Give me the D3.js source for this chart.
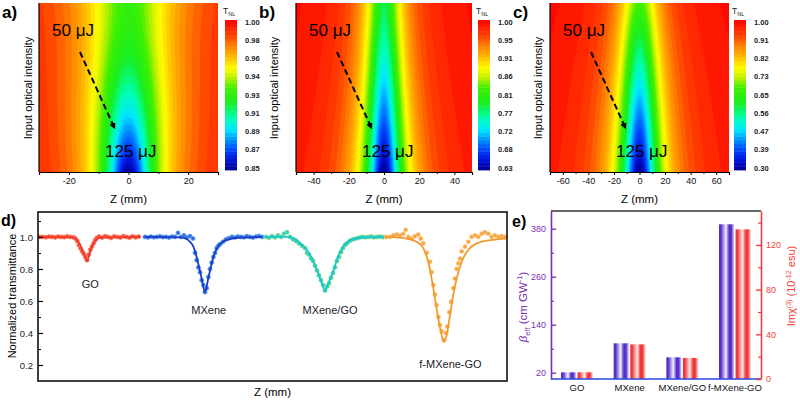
<!DOCTYPE html>
<html><head><meta charset="utf-8">
<script src="https://cdn.jsdelivr.net/npm/d3@7"></script>
<style>body{margin:0;background:#fff} svg text{font-family:"Liberation Sans",Arial,sans-serif}</style>
</head><body><svg id="c" width="800" height="400"></svg>
<script>
// ================= DATA =================
// panels a-c : Z-scan maps
const heatLetters = ["a)", "b)", "c)"];
const zHalfSpan = [30, 50, 70];                       // Z range (mm)
const zMajorTicks = [[-20, 0, 20], [-40, -20, 0, 20, 40], [-60, -40, -20, 0, 20, 40, 60]];
const zMinorTicks = [[-30, -10, 10, 30], [-50, -30, -10, 10, 30, 50], [-70, -50, -30, -10, 10, 30, 50, 70]];
const cbLabels = [
  ["1.00", "0.98", "0.96", "0.94", "0.93", "0.91", "0.89", "0.87", "0.85"],
  ["1.00", "0.95", "0.91", "0.86", "0.81", "0.77", "0.72", "0.68", "0.63"],
  ["1.00", "0.91", "0.82", "0.73", "0.65", "0.56", "0.47", "0.39", "0.30"]];
const tnlMin = [0.85, 0.63, 0.30];
const depthLow = [0.072, 0.215, 0.32];    // dip depth at 50 uJ (top row)
const depthHigh = [0.15, 0.37, 0.70];     // dip depth at 125 uJ (bottom row)
const depthGrowth = [1.7, 1.25, 1.0];     // how the depth grows from top to bottom row
const waistLow = [15, 10, 15];            // Rayleigh-like width (mm), top row
const waistHigh = [8.6, 10.5, 14.7];      // bottom row
const energyLabels = ["50 μJ", "125 μJ"];

// panel d : normalized transmittance
const zGO = [0.4,1.05,1.7,2.35,3.0,3.65,4.3,4.95,5.6,6.25,6.9,7.55,8.0,8.35,8.7,9.05,9.4,9.75,10.1,10.45,10.8,11.15,11.5,11.85,12.2,12.55,13.0,13.65,14.3,14.95,15.6,16.25,16.9,17.55,18.2,18.85,19.5,20.15,20.8,21.45];
const tGO = [1.0,1.0,0.998,1.002,1.0,0.997,1.003,1.0,0.999,1.004,1.0,0.998,0.99,0.975,0.95,0.93,0.91,0.895,0.875,0.855,0.89,0.92,0.94,0.96,0.98,0.995,1.003,0.996,1.005,1.0,0.994,1.004,1.0,0.996,1.006,1.0,0.995,1.004,0.998,1.002];
const zGOfit = [0.2,7.2,7.9,8.6,9.3,9.9,10.4,10.9,11.5,12.2,13.0,21.9];
const tGOfit = [1.0,0.998,0.99,0.97,0.93,0.885,0.85,0.885,0.94,0.975,0.995,1.0];

const zMX = [22.8,23.45,24.1,24.73,25.37,26.0,26.65,27.3,27.93,28.57,29.2,29.85,30.5,31.13,31.77,32.4,33.05,33.48,33.84,34.18,34.54,34.9,35.25,35.6,35.97,36.31,36.67,37.03,37.38,37.74,38.1,38.44,38.8,39.45,40.09,40.72,41.36,42.0,42.64,43.28,43.92,44.56,45.2,45.84,46.48,47.1,47.76];
const tMX = [1.0,0.997,1.002,0.998,1.0,1.004,0.999,1.0,0.996,1.003,1.0,1.025,1.0,1.01,0.998,1.005,0.99,0.90,0.855,0.81,0.78,0.73,0.70,0.655,0.68,0.75,0.80,0.84,0.875,0.90,0.93,0.945,0.955,0.97,0.985,0.993,1.0,0.997,1.003,1.0,0.998,1.005,1.0,0.996,1.002,1.006,1.0];
const zMXfit = [22.8,30.5,31.77,32.4,33.05,33.5,34.2,34.9,35.6,36.3,37.0,37.7,38.4,39.45,40.7,42.6,47.8];
const tMXfit = [1.0,0.997,0.985,0.97,0.945,0.91,0.83,0.74,0.655,0.74,0.83,0.9,0.94,0.97,0.985,0.995,1.0];

const zMG = [48.61,49.25,49.89,50.53,51.17,51.81,52.45,53.09,53.73,54.37,55.01,55.65,56.29,56.93,57.36,57.78,58.21,58.64,59.06,59.49,59.91,60.34,60.77,61.19,61.62,62.05,62.47,62.9,63.33,63.75,64.18,64.61,65.03,65.46,65.88,66.52,67.16,67.8,68.44,69.08,69.72,70.36,71.0,71.64,72.28,72.92,73.56];
const tMG = [1.0,0.995,1.005,0.998,1.01,1.0,1.02,1.03,1.0,0.985,0.975,0.96,0.945,0.93,0.9,0.89,0.865,0.85,0.82,0.79,0.76,0.73,0.7,0.665,0.69,0.71,0.745,0.775,0.81,0.85,0.875,0.905,0.93,0.95,0.96,0.975,0.985,0.99,0.995,1.0,0.998,1.0,1.003,0.998,1.0,1.002,0.999];
const zMGfit = [48.4,53.4,54.7,55.9,57.3,58.7,59.8,60.8,61.2,61.9,63.0,64.0,65.1,66.5,68.7,73.8];
const tMGfit = [1.0,1.0,0.99,0.96,0.92,0.85,0.77,0.69,0.665,0.71,0.79,0.88,0.94,0.98,0.995,1.0];

const zFM = [74.2,75.05,75.76,76.48,77.19,77.89,78.4,78.96,79.68,80.38,81.09,81.6,82.15,82.88,83.58,83.94,84.29,84.65,85.01,85.35,85.71,86.08,86.57,86.99,87.27,87.7,88.06,88.55,88.91,89.27,89.62,89.98,90.34,91.04,91.75,92.47,93.18,93.88,94.61,95.31,96.01,96.74,97.44,98.15,98.87,99.57];
const tFM = [1.0,1.0,1.01,1.015,1.01,1.02,1.045,1.0,0.99,1.005,1.015,0.99,0.96,0.9,0.845,0.78,0.70,0.64,0.575,0.50,0.45,0.41,0.355,0.40,0.44,0.53,0.595,0.68,0.74,0.80,0.835,0.865,0.91,0.94,0.97,1.0,1.01,1.0,1.02,1.03,1.02,1.0,1.01,1.0,1.005,1.0];
const zFMfit = [74.2,78.6,80.7,82.15,83.2,83.94,84.65,85.35,86.08,86.57,87.13,87.84,88.55,89.27,90.34,91.75,93.53,96.38,99.8];
const tFMfit = [1.0,0.99,0.97,0.93,0.845,0.74,0.615,0.49,0.385,0.345,0.385,0.51,0.64,0.74,0.845,0.92,0.96,0.98,0.99];

const sampleNames = ["GO", "MXene", "MXene/GO", "f-MXene-GO"];
const sampleLabelZ = [11.15, 36.4, 62.26, 87.95];
const sampleLabelT = [0.681, 0.516, 0.516, 0.181];
const transTicks = [0.2, 0.4, 0.6, 0.8, 1.0];
const transMinor = [0.3, 0.5, 0.7, 0.9, 1.1];

// panel e : bars
const categories = ["GO", "MXene", "MXene/GO", "f-MXene-GO"];
const betaEff = [21, 93.5, 58.5, 391];
const imChi3 = [6, 31, 18.8, 134];
const betaTicks = [20, 140, 260, 380];
const betaMinor = [80, 200, 320];
const chiTicks = [0, 40, 80, 120];
const chiMinor = [20, 60, 100, 140];

// ================= DRAW =================
const svg = d3.select("#c");
const defs = svg.append("defs");
const FONT = '"Liberation Sans",Arial,sans-serif';

// colormap (Origin rainbow-like)
const cmap = d3.scaleLinear()
  .domain([0, 0.06, 0.13, 0.2, 0.27, 0.35, 0.45, 0.55, 0.62, 0.68, 0.75, 0.83, 0.9, 1])
  .range(["#00008f", "#0010d0", "#0040ff", "#0090ff", "#00e8ff", "#00ffb0", "#18ee20", "#40f000", "#c0f000", "#ffff00", "#ffc000", "#ff8000", "#ff4000", "#ff0000"])
  .interpolate(d3.interpolateRgb);

const NLEV = 40;
const heatBoxes = [{x0: 39, x1: 218, cb: 225, yl: 32}, {x0: 296, x1: 472, cb: 478, yl: 278}, {x0: 550, x1: 729, cb: 734, yl: 542}];
const hy0 = 3, hy1 = 172, cby0 = 20, cby1 = 170, cbw = 12;

defs.append("marker").attr("id", "arr").attr("viewBox", "0 0 10 10").attr("refX", 6).attr("refY", 5)
  .attr("markerWidth", 3.2).attr("markerHeight", 3.2).attr("orient", "auto")
  .append("path").attr("d", "M0,0 L10,5 L0,10 z").attr("fill", "#000");

heatLetters.forEach((letter, p) => {
  const b = heatBoxes[p];
  const g = svg.append("g");
  const zr = zHalfSpan[p];
  const xs = d3.scaleLinear().domain([-zr, zr]).range([b.x0, b.x1]);
  const nx = 160, ny = 90;
  const vals = new Array(nx * ny);
  for (let j = 0; j < ny; j++) {
    const f = (j + 0.5) / ny;
    const dd = depthLow[p] + (depthHigh[p] - depthLow[p]) * Math.pow(f, depthGrowth[p]);
    const w = waistLow[p] + (waistHigh[p] - waistLow[p]) * f;
    for (let i = 0; i < nx; i++) {
      const z = -zr + (i + 0.5) / nx * 2 * zr;
      vals[i + j * nx] = 1 - dd / (1 + (z / w) * (z / w));
    }
  }
  const tmin = tnlMin[p];
  const th = d3.range(NLEV).map(k => tmin + (1 - tmin) * k / NLEV);
  const conts = d3.contours().size([nx, ny]).thresholds(th)(vals);
  const proj = d3.geoTransform({point(x, y) { this.stream.point(b.x0 + x / nx * (b.x1 - b.x0), hy0 + y / ny * (hy1 - hy0)); }});
  const path = d3.geoPath(proj);
  const cid = "clip" + p;
  defs.append("clipPath").attr("id", cid).append("rect")
    .attr("x", b.x0).attr("y", hy0).attr("width", b.x1 - b.x0).attr("height", hy1 - hy0);
  const hg = g.append("g").attr("clip-path", `url(#${cid})`);
  hg.append("rect").attr("x", b.x0).attr("y", hy0).attr("width", b.x1 - b.x0).attr("height", hy1 - hy0)
    .attr("fill", cmap(0.5 / NLEV));
  hg.selectAll("path").data(conts).join("path")
    .attr("d", path)
    .attr("fill", (c, k) => cmap((k + 0.5) / NLEV))
    .attr("stroke", (c, k) => cmap((k + 0.5) / NLEV)).attr("stroke-width", 0.4);

  // axes
  const ax = g.append("g").attr("transform", `translate(0,${hy1})`)
    .call(d3.axisBottom(xs).tickValues(zMajorTicks[p]).tickSize(3).tickPadding(3).tickFormat(d3.format("d")));
  ax.select(".domain").attr("stroke-width", 1.2);
  ax.selectAll("text").attr("font-size", 9).attr("font-family", FONT).attr("fill", "#111").text(d => d < 0 ? "-" + Math.abs(d) : d);
  g.append("g").attr("transform", `translate(0,${hy1})`)
    .call(d3.axisBottom(xs).tickValues(zMinorTicks[p]).tickSize(2).tickFormat(""))
    .select(".domain").remove();
  g.append("line").attr("x1", b.x0).attr("x2", b.x0).attr("y1", hy0).attr("y2", hy1).attr("stroke", "#000").attr("stroke-width", 1.2);

  g.append("text").attr("x", xs(0)).attr("y", 203).attr("text-anchor", "middle").attr("font-size", 11.5).text("Z (mm)");
  g.append("text").attr("transform", `translate(${b.yl},88) rotate(-90)`).attr("text-anchor", "middle")
    .attr("font-size", 11).text("Input optical intensity");
  g.append("text").attr("x", b.x0 - 37).attr("y", 18).attr("font-size", 17).attr("font-weight", "bold").text(letter);

  // energy annotation
  g.append("text").attr("x", b.x0 + 13).attr("y", 36).attr("font-size", 17).text(energyLabels[0]);
  g.append("text").attr("x", b.x0 + 66).attr("y", 157).attr("font-size", 17).text(energyLabels[1]);
  g.append("line").attr("x1", b.x0 + 41).attr("y1", 52).attr("x2", b.x0 + 75).attr("y2", 127)
    .attr("stroke", "#000").attr("stroke-width", 2).attr("stroke-dasharray", "6,3.5").attr("marker-end", "url(#arr)");

  // colorbar
  const cy = d3.scaleLinear().domain([tmin, 1]).range([cby1, cby0]);
  g.selectAll(".cb").data(d3.range(NLEV)).join("rect")
    .attr("x", b.cb).attr("width", cbw)
    .attr("y", k => cy(tmin + (1 - tmin) * (k + 1) / NLEV))
    .attr("height", k => cy(tmin + (1 - tmin) * k / NLEV) - cy(tmin + (1 - tmin) * (k + 1) / NLEV) + 0.4)
    .attr("fill", k => cmap((k + 0.5) / NLEV));
  const ly = d3.scaleLinear().domain([0, cbLabels[p].length - 1]).range([cby0 + 2, cby1 - 2]);
  g.selectAll(".cbl").data(cbLabels[p]).join("text")
    .attr("x", b.cb + cbw + 8).attr("y", (d, i) => ly(i) + 2.5)
    .attr("font-size", 7.5).attr("font-weight", "bold").attr("fill", "#222").text(d => d);
  const tl = g.append("text").attr("x", b.cb - 2).attr("y", 14).attr("font-size", 8.5).attr("fill", "#222");
  tl.append("tspan").text("T");
  tl.append("tspan").attr("font-size", 5.5).attr("dy", 2).text("NL");
});

// ---------- panel d ----------
const dL = 38, dR = 507, dT = 212, dB = 381;
const xD = d3.scaleLinear().domain([0, 100]).range([dL, dR]);
const yD = d3.scaleLinear().domain([0.1, 1.156]).range([dB, dT]);
const gd = svg.append("g");
const series = [
  {z: zGO, t: tGO, zf: zGOfit, tf: tGOfit, fill: "#f2503c", stroke: "#ff8a70", line: "#f03a2a"},
  {z: zMX, t: tMX, zf: zMXfit, tf: tMXfit, fill: "#2f6fe0", stroke: "#70a8f0", line: "#1a3cc8"},
  {z: zMG, t: tMG, zf: zMGfit, tf: tMGfit, fill: "#30ccd8", stroke: "#90e070", line: "#18c6cc"},
  {z: zFM, t: tFM, zf: zFMfit, tf: tFMfit, fill: "#f6a444", stroke: "#fcc880", line: "#f39a2e"}];
const lineGen = d3.line().x(d => xD(d[0])).y(d => yD(d[1])).curve(d3.curveMonotoneX);
series.forEach(s => {
  gd.append("g").selectAll("circle").data(s.z.map((z, i) => [z, s.t[i]])).join("circle")
    .attr("cx", d => xD(d[0])).attr("cy", d => yD(d[1])).attr("r", 2.1)
    .attr("fill", s.fill).attr("stroke", s.stroke).attr("stroke-width", 0.7);
  gd.append("path").datum(s.zf.map((z, i) => [z, s.tf[i]])).attr("d", lineGen)
    .attr("fill", "none").attr("stroke", s.line).attr("stroke-width", 1.8);
});
gd.append("rect").attr("x", dL).attr("y", dT).attr("width", dR - dL).attr("height", dB - dT)
  .attr("fill", "none").attr("stroke", "#111").attr("stroke-width", 1.6);
const yax = gd.append("g").attr("transform", `translate(${dL},0)`)
  .call(d3.axisLeft(yD).tickValues(transTicks).tickSizeInner(-5).tickSizeOuter(0).tickPadding(5).tickFormat(d3.format(".1f")));
yax.select(".domain").remove();
yax.selectAll("text").attr("font-size", 9.5).attr("font-family", FONT).attr("fill", "#222");
yax.selectAll("line").attr("stroke-width", 1.2);
gd.append("g").attr("transform", `translate(${dL},0)`)
  .call(d3.axisLeft(yD).tickValues(transMinor).tickSize(-3).tickFormat(""))
  .select(".domain").remove();
gd.selectAll(".slab").data(sampleNames).join("text")
  .attr("x", (d, i) => xD(sampleLabelZ[i])).attr("y", (d, i) => yD(sampleLabelT[i]))
  .attr("text-anchor", "middle").attr("font-size", 11).attr("fill", "#1a1a2a").text(d => d);
gd.append("text").attr("transform", "translate(16,296) rotate(-90)").attr("text-anchor", "middle")
  .attr("font-size", 11).text("Normalized transmittance");
gd.append("text").attr("x", (dL + dR) / 2).attr("y", 396).attr("text-anchor", "middle").attr("font-size", 11.5).text("Z (mm)");
gd.append("text").attr("x", 1).attr("y", 226).attr("font-size", 16).attr("font-weight", "bold").text("d)");

// ---------- panel e ----------
const eL = 551, eR = 761, eT = 211, eB = 379;
const purple = "#7a2fb0", red = "#f43c3c";
const xE = d3.scaleBand().domain(categories).range([eL, eR]).paddingInner(0.392).paddingOuter(0.19);
const xE1 = d3.scaleBand().domain(["beta", "chi"]).range([0, xE.bandwidth()]).paddingInner(0.07);
const yB = d3.scaleLinear().domain([4.25, 424.25]).range([eB, eT]);
const yC = d3.scaleLinear().domain([0, 150.4]).range([eB, eT]);
function grad(id, dark, light) {
  const lg = defs.append("linearGradient").attr("id", id).attr("x1", 0).attr("x2", 1).attr("y1", 0).attr("y2", 0);
  [[0, dark], [0.12, dark], [0.45, light], [0.66, dark], [0.8, dark], [1, light]].forEach(([o, c]) =>
    lg.append("stop").attr("offset", o).attr("stop-color", c));
}
grad("gp", "#5530c8", "#f2eeff");
grad("gr", "#f03838", "#ffe8e8");
const ge = svg.append("g");
ge.selectAll(".bb").data(categories).join("rect")
  .attr("x", d => xE(d) + xE1("beta")).attr("width", xE1.bandwidth())
  .attr("y", (d, i) => yB(betaEff[i])).attr("height", (d, i) => eB - yB(betaEff[i]))
  .attr("fill", "url(#gp)");
ge.selectAll(".bc").data(categories).join("rect")
  .attr("x", d => xE(d) + xE1("chi")).attr("width", xE1.bandwidth())
  .attr("y", (d, i) => yC(imChi3[i])).attr("height", (d, i) => eB - yC(imChi3[i]))
  .attr("fill", "url(#gr)");
// frame lines
ge.append("line").attr("x1", eL).attr("x2", eR).attr("y1", eT).attr("y2", eT).attr("stroke", "#333").attr("stroke-width", 1.6);
ge.append("line").attr("x1", eL).attr("x2", eR).attr("y1", eB).attr("y2", eB).attr("stroke", "#2a48e0").attr("stroke-width", 1.6);
// left axis
const la = ge.append("g").attr("transform", `translate(${eL},0)`)
  .call(d3.axisLeft(yB).tickValues(betaTicks).tickSizeInner(-5).tickSizeOuter(0).tickPadding(5));
la.select(".domain").attr("stroke", purple).attr("stroke-width", 1.6);
la.selectAll("line").attr("stroke", purple).attr("stroke-width", 1.4);
la.selectAll("text").attr("fill", purple).attr("font-size", 9).attr("font-family", FONT);
ge.append("g").attr("transform", `translate(${eL},0)`)
  .call(d3.axisLeft(yB).tickValues(betaMinor).tickSize(-3).tickFormat(""))
  .call(s => s.select(".domain").remove()).selectAll("line").attr("stroke", purple).attr("stroke-width", 1.2);
// right axis
const ra = ge.append("g").attr("transform", `translate(${eR},0)`)
  .call(d3.axisRight(yC).tickValues(chiTicks).tickSizeInner(-5).tickSizeOuter(0).tickPadding(5));
ra.select(".domain").attr("stroke", red).attr("stroke-width", 1.6);
ra.selectAll("line").attr("stroke", red).attr("stroke-width", 1.4);
ra.selectAll("text").attr("fill", red).attr("font-size", 9).attr("font-family", FONT);
ge.append("g").attr("transform", `translate(${eR},0)`)
  .call(d3.axisRight(yC).tickValues(chiMinor).tickSize(-3).tickFormat(""))
  .call(s => s.select(".domain").remove()).selectAll("line").attr("stroke", red).attr("stroke-width", 1.2);
// category labels
ge.selectAll(".cl").data(categories).join("text")
  .attr("x", d => xE(d) + xE.bandwidth() / 2).attr("y", 391).attr("text-anchor", "middle")
  .attr("font-size", 9.5).attr("fill", "#111").text(d => d);
// axis titles
function rich(t, parts, size) {
  let cur = 0;
  parts.forEach(([s, k]) => {
    const target = k === "sub" ? size * 0.3 : k === "sup" ? -size * 0.4 : 0;
    const ts = t.append("tspan").attr("dy", target - cur).text(s);
    if (k === "sub" || k === "sup") ts.attr("font-size", size * 0.65);
    if (k === "it") ts.attr("font-style", "italic");
    cur = target;
  });
}
const lt = ge.append("text").attr("transform", "translate(527,307) rotate(-90)").attr("text-anchor", "middle")
  .attr("font-size", 11.5).attr("fill", purple);
rich(lt, [["β", "it"], ["eff", "sub"], [" (cm GW", "n"], ["-1", "sup"], [")", "n"]], 11.5);
const rt = ge.append("text").attr("transform", "translate(795,286) rotate(-90)").attr("text-anchor", "middle")
  .attr("font-size", 11).attr("fill", red);
rich(rt, [["Imχ", "n"], ["(3)", "sup"], [" (10", "n"], ["-12", "sup"], [" esu)", "n"]], 11);
ge.append("text").attr("x", 512).attr("y", 227).attr("font-size", 16).attr("font-weight", "bold").text("e)");
</script></body></html>
